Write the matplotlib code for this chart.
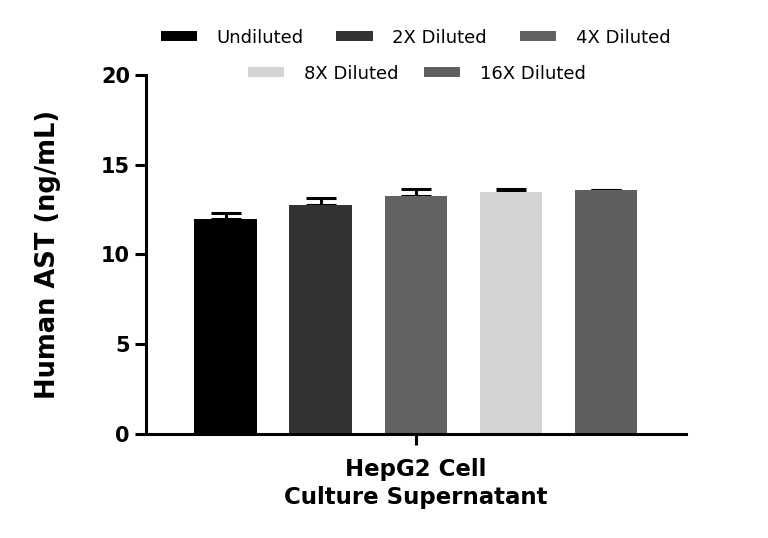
import matplotlib
matplotlib.use("Agg")
import matplotlib.pyplot as plt
from matplotlib.patches import Patch
import numpy as np

categories = ["Undiluted", "2X Diluted", "4X Diluted", "8X Diluted", "16X Diluted"]
values = [12.0, 12.75, 13.26, 13.46, 13.58]
errors = [0.30, 0.40, 0.40, 0.17, 0.03]
colors = ["#000000", "#333333", "#626262", "#d4d4d4", "#5f5f5f"]
group_label = "HepG2 Cell\nCulture Supernatant"
y_label = "Human AST (ng/mL)"
y_ticks = [0, 5, 10, 15, 20]

plt.rcParams['font.family'] = ['DejaVu Sans']

fig = plt.figure(figsize=(7.68, 5.38), dpi=100)
ax = fig.add_axes([0.190, 0.193, 0.703, 0.668])

x = np.arange(len(categories))
ax.bar(x, values, width=0.66, color=colors, zorder=2)
ax.errorbar(x, values, yerr=[np.zeros(len(errors)), errors], fmt='none',
            ecolor='black', elinewidth=2.2, capsize=11, capthick=2.2, zorder=1)

ax.set_xlim(-0.84, 4.84)
ax.set_ylim(0, 20)
ax.set_yticks(y_ticks)
ax.set_yticklabels([str(t) for t in y_ticks], fontsize=15, fontweight='bold')
ax.set_xticks([2])
ax.set_xticklabels([group_label], fontsize=16.5, fontweight='bold', linespacing=1.3)
ax.set_ylabel(y_label, fontsize=18.5, fontweight='bold', labelpad=29)

for s in ['top', 'right']:
    ax.spines[s].set_visible(False)
for s in ['left', 'bottom']:
    ax.spines[s].set_linewidth(2.2)
ax.tick_params(axis='y', width=2.2, length=8, pad=3.5)
ax.tick_params(axis='x', width=2.2, length=8, pad=9)

handles = [Patch(facecolor=c, edgecolor='none') for c in colors]
common = dict(frameon=False, fontsize=13, handlelength=2.0, handleheight=0.45,
              handletextpad=1.1)
leg1 = fig.legend(handles[:3], categories[:3], loc='center', bbox_to_anchor=(0.541, 0.930),
                  ncol=3, columnspacing=1.8, **common)
leg2 = fig.legend(handles[3:], categories[3:], loc='center', bbox_to_anchor=(0.543, 0.863),
                  ncol=2, columnspacing=1.4, **common)

fig.savefig("out.png", dpi=100)
